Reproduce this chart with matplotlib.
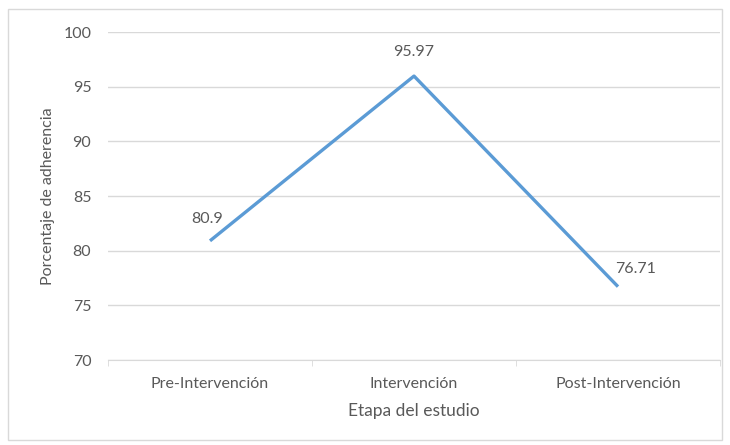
import numpy as np
import matplotlib.pyplot as plt
from matplotlib.patches import Rectangle

# Data
etapas = ['Pre-Intervención', 'Intervención', 'Post-Intervención']
adherencia = [80.9, 95.97, 76.71]
etiquetas = ['80.9', '95.97', '76.71']
y_ticks = [70, 75, 80, 85, 90, 95, 100]

plt.rcParams['font.family'] = ['Lato', 'DejaVu Sans']
gris = '#595959'
linea = '#D9D9D9'

fig = plt.figure(figsize=(7.30, 4.45), dpi=100)
ax = fig.add_axes([108 / 730, 1 - 360 / 445, 612 / 730, 328 / 445])

x = np.arange(len(etapas))
ax.plot(x, adherencia, color='#5B9BD5', linewidth=2.4, solid_capstyle='butt')

# data labels
offsets = [(-2, 11), (0, 12), (13, 8)]
for xi, yi, lab, off in zip(x, adherencia, etiquetas, offsets):
    ax.annotate(lab, (xi, yi), xytext=off, textcoords='offset points',
                ha='center', va='bottom', fontsize=11.5, color=gris)

ax.set_xlim(-0.5, 2.5)
ax.set_ylim(70, 100)
ax.set_yticks(y_ticks)
ax.set_xticks(x)
ax.set_xticklabels(etapas)
ax.set_xticks([-0.5, 0.5, 1.5, 2.5], minor=True)
ax.tick_params(axis='x', which='major', length=0, pad=12, labelsize=11.5, labelcolor=gris)
ax.tick_params(axis='x', which='minor', length=4, color=linea, direction='out')
ax.tick_params(axis='y', length=0, pad=12, labelsize=11.5, labelcolor=gris)

ax.grid(axis='y', color=linea, linewidth=1)
ax.set_axisbelow(True)
for s in ['top', 'right', 'left']:
    ax.spines[s].set_visible(False)
ax.spines['bottom'].set_color(linea)

ax.set_xlabel('Etapa del estudio', fontsize=12.5, color=gris, labelpad=9)
ax.set_ylabel('Porcentaje de adherencia', fontsize=11.5, color=gris, labelpad=6)

# chart border
fig.patches.append(Rectangle((8 / 730, 5 / 445), 714 / 730, 431 / 445,
                             transform=fig.transFigure, fill=False,
                             edgecolor=linea, linewidth=1))

fig.savefig('out.png', dpi=100)
